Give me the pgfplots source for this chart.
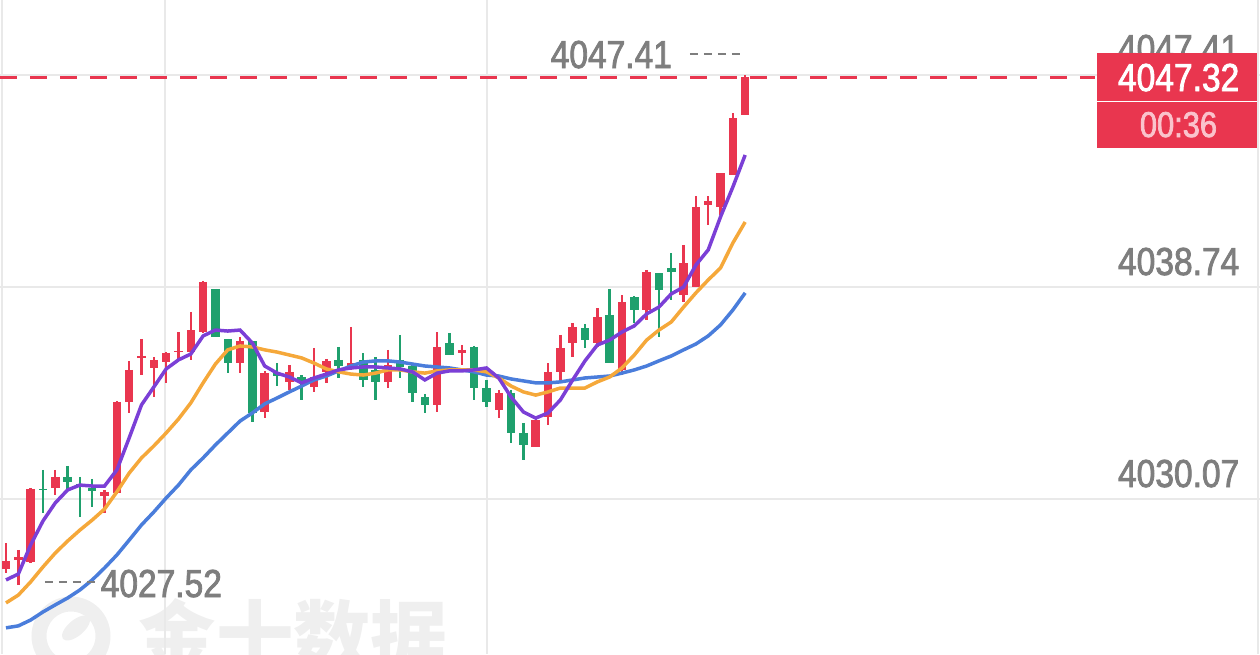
\documentclass[border=0pt]{standalone}
\usepackage{fontspec}
\setmainfont{Liberation Sans}[FakeStretch=0.86]
\newfontfamily\lblfont{Liberation Sans}[FakeStretch=0.86, FakeBold=2]
\newfontfamily\cjk{Noto Sans CJK SC}
\usepackage{pgfplots}
\usepackage{pgfplotstable}
\pgfplotsset{compat=1.18}
\definecolor{cred}{HTML}{E9364F}
\definecolor{cgreen}{HTML}{1FA06D}
\definecolor{cpurple}{HTML}{7B3FD6}
\definecolor{corange}{HTML}{F5A83A}
\definecolor{cblue}{HTML}{4A7DDB}
\definecolor{cgrid}{HTML}{E9E9E9}
\definecolor{clabel}{HTML}{7E7E7E}
\definecolor{cwm}{HTML}{EFEFEF}
\definecolor{cpink}{HTML}{FAC3CC}

% rising candles (red): index open high low close
\pgfplotstableread{
i o h l c
0 4027.21 4028.27 4027.04 4027.54
1 4027.58 4027.99 4026.55 4027.70
2 4027.49 4030.52 4027.45 4030.48
4 4030.52 4031.26 4030.23 4030.97
8 4030.19 4030.44 4029.50 4030.36
9 4030.32 4034.08 4030.28 4034.04
10 4034.04 4035.72 4033.59 4035.35
11 4035.84 4036.62 4035.14 4035.92
12 4035.43 4035.88 4034.24 4035.76
13 4035.67 4036.08 4034.82 4036.04
14 4036.08 4036.90 4035.76 4036.12
15 4036.08 4037.72 4035.76 4036.98
16 4036.90 4038.99 4036.86 4038.95
19 4035.63 4036.70 4035.22 4036.53
21 4033.63 4035.31 4033.38 4035.22
23 4034.86 4035.55 4034.53 4035.27
25 4034.65 4036.25 4034.45 4035.06
26 4035.27 4035.80 4034.82 4035.72
28 4035.43 4037.11 4035.35 4035.63
31 4034.86 4036.17 4034.61 4035.55
35 4033.92 4036.90 4033.63 4036.29
37 4036.04 4036.37 4035.55 4036.17
40 4033.71 4034.53 4033.38 4034.41
43 4032.20 4033.38 4032.20 4033.30
44 4033.42 4035.63 4033.10 4035.27
45 4035.27 4036.78 4034.86 4036.25
46 4036.45 4037.27 4035.88 4037.11
48 4036.45 4037.88 4036.29 4037.51
50 4035.35 4038.41 4035.14 4038.13
52 4037.80 4039.44 4037.39 4039.35
55 4038.41 4040.46 4038.13 4039.72
56 4038.74 4042.46 4038.74 4042.01
57 4042.09 4042.46 4041.28 4042.26
58 4042.01 4043.40 4041.68 4043.40
59 4043.32 4045.86 4043.32 4045.65
60 4045.77 4047.41 4045.77 4047.32
}\updata

% falling candles (green)
\pgfplotstableread{
i o h l c
3 4030.48 4031.26 4029.50 4030.44
5 4030.97 4031.42 4030.44 4030.77
6 4030.68 4030.97 4029.34 4030.60
7 4030.52 4030.89 4029.74 4030.40
17 4038.66 4038.66 4036.70 4036.70
18 4036.62 4036.62 4035.22 4035.63
20 4036.53 4036.53 4033.22 4033.59
22 4035.22 4035.63 4034.69 4035.10
24 4035.06 4035.14 4034.12 4034.86
27 4035.76 4036.29 4035.02 4035.51
29 4035.76 4036.04 4034.65 4034.94
30 4035.35 4035.88 4034.12 4034.86
32 4035.76 4036.78 4035.02 4035.47
33 4035.51 4035.55 4034.04 4034.41
34 4034.24 4034.37 4033.59 4033.92
36 4036.45 4036.86 4035.96 4035.96
38 4036.29 4036.33 4034.12 4034.61
39 4034.61 4034.94 4033.83 4034.04
41 4034.41 4034.53 4032.36 4032.77
42 4032.77 4033.18 4031.67 4032.28
47 4037.06 4037.23 4036.25 4036.57
49 4037.60 4038.66 4035.63 4035.63
51 4038.33 4038.37 4037.27 4037.80
53 4039.31 4039.31 4036.70 4038.62
54 4039.52 4040.13 4038.21 4039.35
}\downdata

% moving averages
\pgfplotstableread{
i ma5 ma10 ma20
0 4026.76 4025.82 4024.80
1 4027.00 4026.14 4024.88
2 4028.19 4026.68 4025.12
3 4029.17 4027.29 4025.45
4 4029.91 4027.86 4025.74
5 4030.44 4028.35 4026.02
6 4030.64 4028.80 4026.35
7 4030.60 4029.21 4026.76
8 4030.60 4029.66 4027.25
9 4031.26 4030.36 4027.78
10 4032.57 4031.13 4028.39
11 4033.92 4031.75 4029.01
12 4034.65 4032.24 4029.54
13 4035.39 4032.77 4030.11
14 4035.76 4033.34 4030.64
15 4036.00 4034.00 4031.26
16 4036.74 4034.82 4031.75
17 4036.98 4035.59 4032.28
18 4036.94 4036.17 4032.77
19 4036.98 4036.33 4033.26
20 4036.45 4036.29 4033.59
21 4035.51 4036.17 4033.96
22 4035.22 4036.08 4034.20
23 4035.06 4035.96 4034.45
24 4034.82 4035.84 4034.69
25 4035.02 4035.63 4034.94
26 4035.18 4035.39 4035.10
27 4035.35 4035.27 4035.31
28 4035.43 4035.18 4035.51
29 4035.47 4035.14 4035.67
30 4035.47 4035.22 4035.72
31 4035.43 4035.35 4035.72
32 4035.39 4035.35 4035.67
33 4035.27 4035.27 4035.59
34 4034.94 4035.22 4035.51
35 4035.22 4035.31 4035.47
36 4035.31 4035.35 4035.43
37 4035.31 4035.35 4035.35
38 4035.35 4035.35 4035.27
39 4035.43 4035.27 4035.14
40 4035.02 4035.02 4035.10
41 4034.24 4034.69 4034.98
42 4033.63 4034.45 4034.90
43 4033.38 4034.32 4034.82
44 4033.59 4034.45 4034.82
45 4034.12 4034.61 4034.86
46 4034.94 4034.61 4034.94
47 4035.72 4034.61 4035.02
48 4036.37 4034.86 4035.06
49 4036.57 4035.06 4035.10
50 4036.90 4035.43 4035.22
51 4037.15 4035.96 4035.35
52 4037.64 4036.57 4035.51
53 4037.92 4036.98 4035.72
54 4038.46 4037.31 4035.92
55 4038.74 4037.92 4036.17
56 4039.64 4038.50 4036.41
57 4040.26 4039.03 4036.74
58 4041.61 4039.52 4037.19
59 4042.83 4040.54 4037.80
60 4044.14 4041.40 4038.50
}\madata

\begin{document}
\begin{tikzpicture}
\useasboundingbox (0,0) rectangle (12.6,6.54);
% watermark
\draw[cwm, line width=0.15cm] (0.71,0.18) circle (0.32cm);
\fill[cwm, rotate around={40:(0.76,0.26)}] (0.76,0.26) ellipse (0.17cm and 0.08cm);
\node[anchor=base west, inner sep=0, text=cwm, font=\cjk\bfseries\fontsize{22pt}{22pt}\selectfont] at (1.38,-0.11) {金十数据};

\begin{axis}[
  at={(0,0)}, anchor=south west, scale only axis,
  width=12.6cm, height=6.54cm,
  xmin=-0.487, xmax=101.79, ymin=4023.73, ymax=4050.48,
  axis line style={draw=none},
  tick style={draw=none},
  xtick={-0.33,12.9,39.04,101.62}, xticklabels={},
  ytick={4030.07,4038.74,4047.41}, yticklabels={},
  grid=major, major grid style={draw=cgrid, line width=0.012cm},
]
% red dashed last-price line
\addplot[cred, line width=0.03cm, dash pattern=on 0.17cm off 0.13cm, forget plot]
  coordinates {(-0.49,4047.32) (88.4,4047.32)};
% wicks
\addplot[draw=none, mark=none, forget plot, error bars/.cd, y dir=minus, y explicit, error mark=none,
  error bar style={line width=0.024cm, cred}]
  table[x=i, y=h, y error minus expr=\thisrow{h}-\thisrow{l}] {\updata};
\addplot[draw=none, mark=none, forget plot, error bars/.cd, y dir=minus, y explicit, error mark=none,
  error bar style={line width=0.024cm, cgreen}]
  table[x=i, y=h, y error minus expr=\thisrow{h}-\thisrow{l}] {\downdata};
% bodies
\addplot[draw=none, mark=none, forget plot, error bars/.cd, y dir=minus, y explicit, error mark=none,
  error bar style={line width=0.085cm, cred}]
  table[x=i, y=c, y error minus expr=\thisrow{c}-\thisrow{o}] {\updata};
\addplot[draw=none, mark=none, forget plot, error bars/.cd, y dir=minus, y explicit, error mark=none,
  error bar style={line width=0.085cm, cgreen}]
  table[x=i, y=o, y error minus expr=\thisrow{o}-\thisrow{c}] {\downdata};
% moving averages
\addplot[cblue, line width=0.035cm, mark=none] table[x=i, y=ma20] {\madata};
\addplot[corange, line width=0.035cm, mark=none] table[x=i, y=ma10] {\madata};
\addplot[cpurple, line width=0.035cm, mark=none] table[x=i, y=ma5] {\madata};
\end{axis}

% price scale labels
\begin{scope}[every node/.style={inner sep=0, text=clabel, font=\lblfont\fontsize{11.1pt}{11.1pt}\selectfont}]
\node[anchor=base east] at (12.40,5.92) {4047.41};
\node[anchor=base east] at (12.40,3.79) {4038.74};
\node[anchor=base east] at (12.40,1.67) {4030.07};
\node[anchor=base west] at (5.50,5.86) {4047.41};
\node[anchor=base west] at (1.00,0.57) {4027.52};
\end{scope}
\draw[clabel, line width=0.028cm, dash pattern=on 0.08cm off 0.06cm] (6.90,6.00) -- (7.42,6.00);
\draw[clabel, line width=0.028cm, dash pattern=on 0.08cm off 0.06cm] (0.45,0.72) -- (0.98,0.72);

% last price box
\fill[cred] (10.97,5.06) rectangle (12.57,6.01);
\draw[white, line width=0.01cm] (10.97,5.53) -- (12.57,5.53);
\node[anchor=base east, inner sep=0, text=white, font=\lblfont\fontsize{11.1pt}{11.1pt}\selectfont] at (12.40,5.63) {4047.32};
\node[anchor=base, inner sep=0, text=cpink, font=\lblfont\fontsize{10.2pt}{10.2pt}\selectfont] at (11.785,5.17) {00:36};
\end{tikzpicture}
\end{document}
